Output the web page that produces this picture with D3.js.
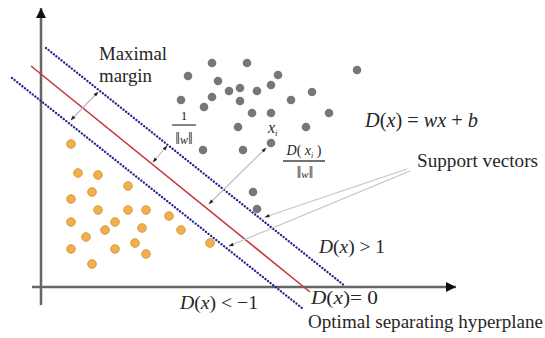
<!DOCTYPE html>
<html><head><meta charset="utf-8">
<script src="https://cdn.jsdelivr.net/npm/d3@7"></script>
</head><body style="margin:0">
<script>
// ---- data (chart units: origin at the axes' crossing, y up) ----
const classNeg = [[30,143],[37,114],[57,112],[87,101],[51,95],[30,88],[57,77],[87,77],[105,77],[128,71],
  [30,65],[74,65],[101,59],[64,57],[140,57],[45,50],[94,44],[169,44],[30,38],[74,38],[105,33],[51,23]];
const classPos = [[171,224],[206,224],[147,211],[177,206],[199,199],[188,196],[216,196],[230,202],[237,212],
  [140,187],[171,190],[199,186],[163,180],[211,174],[230,174],[197,160],[230,144],[202,137],[162,137],
  [316,217],[271,195],[250,187],[288,174],[265,160],[212,95],[216,78]];
const hyperplane = [[-10,221],[269,-5]];
const marginUpper = [[5,239],[304,1]];
const marginLower = [[-29,209],[261,-21]];
const doubleArrows = [ [[57,195],[30,167]], [[126,141],[112,125]], [[225,139],[168,83]] ];
const supportArrows = [ [[366,118],[224,70]], [[369,116],[188,41]] ];
const xDomain = [0,412], yDomain = [0,279];

// ---- layout ----
const W = 545, H = 338;
const x = d3.scaleLinear().domain(xDomain).range([41,453]);
const y = d3.scaleLinear().domain(yDomain).range([287,8]);
const FONT = "Liberation Serif";
const ink = "#262626";

const svg = d3.select("body").append("svg").attr("width",W).attr("height",H)
  .style("display","block").style("font-family",FONT);
const defs = svg.append("defs");
defs.append("marker").attr("id","ah").attr("viewBox","0 0 10 10").attr("refX",9).attr("refY",5)
  .attr("markerWidth",6).attr("markerHeight",5).attr("markerUnits","userSpaceOnUse")
  .attr("orient","auto-start-reverse")
  .append("path").attr("d","M0,1.5L10,5L0,8.5Z").attr("fill","#222");
defs.append("marker").attr("id","axh").attr("viewBox","0 0 10 10").attr("refX",10).attr("refY",5)
  .attr("markerWidth",11).attr("markerHeight",10).attr("markerUnits","userSpaceOnUse")
  .attr("orient","auto")
  .append("path").attr("d","M0,0L10,5L0,10Z").attr("fill","#111");

const line = d3.line().x(d=>x(d[0])).y(d=>y(d[1]));

// axes (arrow-only, no ticks)
svg.append("path").attr("d", line([[0,-18],[0,279]])).attr("stroke","#666").attr("stroke-width",2.5)
  .attr("fill","none").attr("marker-end","url(#axh)");
svg.append("path").attr("d", line([[-9,0],[415,0]])).attr("stroke","#666").attr("stroke-width",2.5)
  .attr("fill","none").attr("marker-end","url(#axh)");

// margin lines (dotted) and hyperplane
[marginUpper, marginLower].forEach(seg=>{
  svg.append("path").attr("d", line(seg)).attr("stroke","#23238f").attr("stroke-width",2.3)
    .attr("stroke-linecap","round").attr("stroke-dasharray","0.1 3.2").attr("fill","none");
});
svg.append("path").attr("d", line(hyperplane)).attr("stroke","#c4373c").attr("stroke-width",1.6).attr("fill","none");

// leader arrows
doubleArrows.forEach(seg=>{
  svg.append("path").attr("d", line(seg)).attr("stroke","#b8b8b8").attr("stroke-width",1.1).attr("fill","none")
    .attr("marker-start","url(#ah)").attr("marker-end","url(#ah)");
});
supportArrows.forEach(seg=>{
  svg.append("path").attr("d", line(seg)).attr("stroke","#c4c4c4").attr("stroke-width",1.1).attr("fill","none")
    .attr("marker-end","url(#ah)");
});

// points
svg.append("g").selectAll("circle").data(classPos).join("circle")
  .attr("cx",d=>x(d[0])).attr("cy",d=>y(d[1])).attr("r",4.3).attr("fill","#777");
svg.append("g").selectAll("circle").data(classNeg).join("circle")
  .attr("cx",d=>x(d[0])).attr("cy",d=>y(d[1])).attr("r",4.3).attr("fill","#f2b04a")
  .attr("stroke","#dc9a3e").attr("stroke-width",1);

// text helpers
function mtext(px, py, parts, size, anchor){
  const t = svg.append("text").attr("x",px).attr("y",py).attr("font-family",FONT)
    .attr("font-size",size).attr("fill",ink).attr("text-anchor",anchor||"start");
  parts.forEach(p=>{
    const s = t.append("tspan").text(p[0]).attr("font-style", p[1] ? "italic" : "normal");
    if (p[2]) s.attr("font-size", p[2]).attr("dy", p[3]||0);
  });
  return t;
}
function plain(px, py, str, size, len){
  const t = svg.append("text").attr("x",px).attr("y",py).attr("font-family",FONT)
    .attr("font-size",size).attr("fill",ink).text(str);
  if (len) t.attr("textLength",len).attr("lengthAdjust","spacingAndGlyphs");
  return t;
}

plain(99, 60, "Maximal", 18.5, 68);
plain(99, 82, "margin", 18.5, 53);
plain(417, 167, "Support vectors", 18, 121);
plain(308, 328, "Optimal separating hyperplane", 18, 235);

mtext(365, 127, [["D",1],["(",0],["x",1],[")",0],[" = ",0],["wx",1],[" + ",0],["b",1]], 20)
  .attr("textLength",113).attr("lengthAdjust","spacingAndGlyphs");
mtext(319, 253, [["D",1],["(",0],["x",1],[")",0],[" > 1",0]], 19)
  .attr("textLength",66).attr("lengthAdjust","spacingAndGlyphs");
mtext(311, 304, [["D",1],["(",0],["x",1],[")= 0",0]], 19)
  .attr("textLength",67).attr("lengthAdjust","spacingAndGlyphs");
mtext(180, 309, [["D",1],["(",0],["x",1],[")",0],[" < \u22121",0]], 19)
  .attr("textLength",78).attr("lengthAdjust","spacingAndGlyphs");

// x_i label
mtext(268, 133, [["x",1],["i",1,9,3]], 16);

// fraction 1/||w||
plain(184, 120, "1", 13).attr("text-anchor","middle");
svg.append("line").attr("x1",172).attr("x2",196).attr("y1",125).attr("y2",125).attr("stroke","#444").attr("stroke-width",1.3);
mtext(184, 144, [["\u2016",0],["w",1,12],["\u2016",0,17]], 17, "middle");

// fraction D(x_i)/||w||
mtext(304, 155, [["D",1],["( ",0],["x",1],["i",1,8,3],[" )",0,14,-3]], 14, "middle");
svg.append("line").attr("x1",283).attr("x2",325).attr("y1",161).attr("y2",161).attr("stroke","#444").attr("stroke-width",1.3);
mtext(305, 178, [["\u2016",0],["w",1,11],["\u2016",0,16]], 16, "middle");
</script>
</body></html>
